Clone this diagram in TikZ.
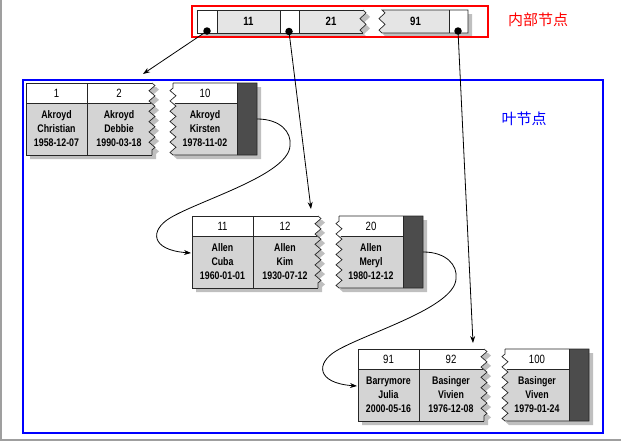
\documentclass[tikz,border=0pt]{standalone}
\usepackage{fontspec}
\setmainfont{Liberation Sans}[FakeStretch=0.8]
\newfontfamily\cjk{Noto Sans CJK SC}
\usetikzlibrary{arrows.meta,decorations.pathmorphing}
\definecolor{bodyc}{gray}{0.83}
\definecolor{topc}{gray}{0.9}
\definecolor{darkc}{gray}{0.3}
\definecolor{shadc}{gray}{0.75}
\tikzset{
  zz/.style={decoration={zigzag,segment length=10.3,amplitude=3}},
  zt/.style={decoration={zigzag,segment length=11.5,amplitude=3}},
  cellline/.style={line width=0.7pt,draw=black!85},
  keyt/.style={inner sep=0pt,font=\fontsize{12}{13}\selectfont},
  datat/.style={inner sep=0pt,align=center,font=\bfseries\fontsize{11}{14}\selectfont},
  topt/.style={inner sep=0pt,font=\bfseries\fontsize{12}{13}\selectfont},
  ptrcell/.style={inner sep=0pt,minimum width=20pt,minimum height=72pt},
  dotn/.style={circle,fill=black,inner sep=0pt,minimum size=7.5pt},
  arr/.style={line width=0.8pt,-{Stealth[length=7pt,width=5pt]}},
  link/.style={line width=0.8pt,-{Stealth[length=7pt,width=5pt]}},
}
\newcommand{\leafrow}[7]{%
  % shadows
  \fill[shadc] (30,87) -- (156,87) decorate[zz]{-- (156,159)} -- (30,159) -- cycle;
  \fill[shadc] (177,87) -- (261,87) -- (261,159) -- (177,159) decorate[zz]{-- (177,87)} -- cycle;
  % block A
  \begin{scope}
    \clip (26,83) -- (152,83) decorate[zz]{-- (152,155)} -- (26,155) -- cycle;
    \fill[white] (20,80) rectangle (160,103);
    \fill[bodyc] (20,103) rectangle (160,160);
  \end{scope}
  \draw[cellline] (152,83) -- (26,83) -- (26,155) -- (152,155);
  \draw[cellline] (152,83) decorate[zz]{-- (152,155)};
  \draw[cellline] (26,103) -- (151,103);
  \draw[cellline] (87,83) -- (87,155);
  % block B
  \begin{scope}
    \clip (173,83) -- (257,83) -- (257,155) -- (173,155) decorate[zz]{-- (173,83)} -- cycle;
    \fill[white] (165,80) rectangle (237,103);
    \fill[bodyc] (165,103) rectangle (237,160);
    \fill[darkc] (237,80) rectangle (260,160);
  \end{scope}
  \draw[cellline] (173,83) -- (257,83) -- (257,155) -- (173,155) decorate[zz]{-- (173,83)};
  \draw[cellline] (175,103) -- (237,103);
  \draw[cellline] (237,83) -- (237,155);
  % texts
  \node[keyt] (#1k1) at (56.5,93) {#2};
  \node[datat] (#1d1) at (56.5,129) {#3};
  \node[keyt] (#1k2) at (119,93) {#4};
  \node[datat] (#1d2) at (119,129) {#5};
  \node[keyt] (#1k3) at (205,93) {#6};
  \node[datat] (#1d3) at (205,129) {#7};
  \node[ptrcell] (#1p) at (247,119) {};
  \coordinate (#1in) at (25,120);
}
\newcommand{\linkcurve}[2]{%
  \draw[link] (#1) .. controls (280,119) and (292,132) .. (290,146)
    .. controls (288,175) and (200,200) .. (170,218)
    .. controls (150,230) and (150,250) .. (#2);
}
\begin{document}
\begin{tikzpicture}[x=1pt,y=-1pt]
\useasboundingbox (0,0) rectangle (621,442);
% outer gray frame lines
\draw[gray!75,line width=1.5pt] (1,0) -- (1,440) -- (621,440);
% ---------- internal node ----------
\fill[shadc] (201,14) -- (367,14) decorate[zt]{-- (367,37)} -- (201,37) -- cycle;
\fill[shadc] (386,14) -- (472,14) -- (472,37) -- (386,37) decorate[zt]{-- (386,14)} -- cycle;
\begin{scope}
  \clip (197,10) -- (363,10) decorate[zt]{-- (363,33)} -- (197,33) -- cycle;
  \fill[white] (190,5) rectangle (370,40);
  \fill[topc] (217,5) rectangle (280,40);
  \fill[topc] (299,5) rectangle (370,40);
\end{scope}
\draw[cellline] (363,10) -- (197,10) -- (197,33) -- (363,33);
\draw[cellline] (363,10) decorate[zt]{-- (363,33)};
\draw[cellline] (217,10) -- (217,33);
\draw[cellline] (280,10) -- (280,33);
\draw[cellline] (299,10) -- (299,33);
\begin{scope}
  \clip (382,10) -- (468,10) -- (468,33) -- (382,33) decorate[zt]{-- (382,10)} -- cycle;
  \fill[topc] (375,5) rectangle (449,40);
  \fill[white] (449,5) rectangle (470,40);
\end{scope}
\draw[cellline] (382,10) -- (468,10) -- (468,33) -- (382,33) decorate[zt]{-- (382,10)};
\draw[cellline] (449,10) -- (449,33);
\node[topt] (t11) at (248.5,21.5) {11};
\node[topt] (t21) at (331,21.5) {21};
\node[topt] (t91) at (415.5,21.5) {91};
% red and blue boxes
\draw[red,line width=2pt] (192,6) rectangle (488,37);
\draw[blue,line width=2.5pt] (23,80) rectangle (603,433);
\node[text=red,inner sep=0pt,font=\cjk\fontsize{15}{15}\selectfont] (lblin) at (538,20) {内部节点};
\node[text=blue,inner sep=0pt,font=\cjk\fontsize{15}{15}\selectfont] (lblleaf) at (524,119) {叶节点};
% ---------- leaf rows ----------
\leafrow{r1}{1}{Akroyd\\Christian\\1958-12-07}{2}{Akroyd\\Debbie\\1990-03-18}{10}{Akroyd\\Kirsten\\1978-11-02}
\begin{scope}[shift={(166,133)}]
\leafrow{r2}{11}{Allen\\Cuba\\1960-01-01}{12}{Allen\\Kim\\1930-07-12}{20}{Allen\\Meryl\\1980-12-12}
\end{scope}
\begin{scope}[shift={(332,266)}]
\leafrow{r3}{91}{Barrymore\\Julia\\2000-05-16}{92}{Basinger\\Vivien\\1976-12-08}{100}{Basinger\\Viven\\1979-01-24}
\end{scope}
% ---------- connectors ----------
\linkcurve{r1p.east}{r2in}
\begin{scope}[shift={(166,133)}]
\linkcurve{r2p.east}{r3in}
\end{scope}
\coordinate (e1) at (143,74);
\coordinate (e2) at (311,209);
\coordinate (e3) at (473,343);
\node[dotn] (q1) at (207,31) {};
\node[dotn] (q2) at (289,31.5) {};
\node[dotn] (q3) at (458,31) {};
\draw[arr] (q1.center) -- (e1);
\draw[arr] (q2.center) -- (e2);
\draw[arr] (q3.center) -- (e3);
\end{tikzpicture}
\end{document}
